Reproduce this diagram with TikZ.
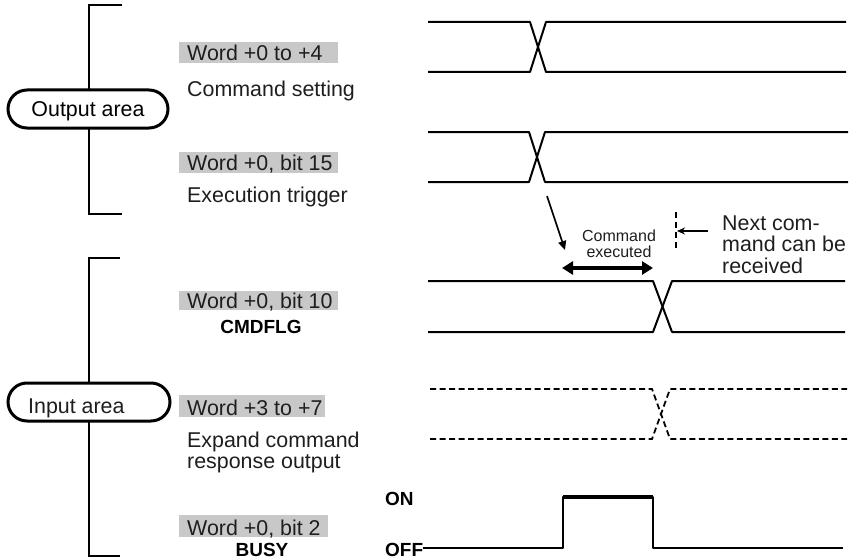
\documentclass[tikz,border=0pt]{standalone}
\usepackage{fontspec}
\setmainfont{Liberation Sans}
\usetikzlibrary{arrows.meta}
\definecolor{boxgray}{RGB}{200,200,200}
\definecolor{ink}{RGB}{30,30,30}
\begin{document}
\begin{tikzpicture}[x=1pt,y=-1pt,
  lbl/.style={anchor=base west, inner sep=0pt, font=\fontsize{21.4}{20}\selectfont, text=ink, align=left},
  small/.style={inner sep=0pt, font=\fontsize{16}{16}\selectfont, text=ink, align=center},
  tagbox/.style={fill=boxgray, draw=none},
  sig/.style={anchor=base, inner sep=0pt, font=\bfseries\fontsize{19}{20}\selectfont},
  wave/.style={line width=2pt, line join=round},
  dwave/.style={line width=1.8pt, dash pattern=on 6pt off 3.5pt},
  brack/.style={line width=2pt},
  pill/.style={draw, line width=3pt, rounded corners=19pt, minimum width=160pt, minimum height=38pt, fill=white, inner sep=0pt},
]
\useasboundingbox (0,0) rectangle (853,559);

% ---------- brackets and pills ----------
\draw[brack] (122,5) -- (89,5) -- (89,214) -- (122,214);
\node[pill, font=\fontsize{21.4}{20}\selectfont, text height=15pt, text depth=0pt] (outpill) at (88,109) {Output area};
\draw[brack] (120,258) -- (89,258) -- (89,556) -- (120,556);
\node[pill, minimum width=162pt] (inpill) at (89,402) {};
\node[lbl] (inlbl) at (28,413) {Input area};

% ---------- gray tags ----------
\fill[tagbox] (179,42) rectangle (338,63);
\node[lbl] (w1) at (187,61) {Word +0 to +4};
\node[lbl] (c1) at (187,96.5) {Command setting};
\fill[tagbox] (179,152) rectangle (338,173);
\node[lbl] (w2) at (187,170) {Word +0, bit 15};
\node[lbl] (c2) at (187,202) {Execution trigger};
\fill[tagbox] (179,291) rectangle (338,310);
\node[lbl] (w3) at (187,308) {Word +0, bit 10};
\node[sig] (c3) at (261,333) {CMDFLG};
\fill[tagbox] (179,395) rectangle (325,417);
\node[lbl] (w4) at (187,415) {Word +3 to +7};
\node[lbl, font=\fontsize{21.4}{20.5}\selectfont] (c4) at (187,468) {Expand command\\response output};
\fill[tagbox] (179,515) rectangle (328,537);
\node[lbl] (w5) at (187,535) {Word +0, bit 2};
\node[sig] (c5) at (262,556) {BUSY};

% ---------- waveforms ----------
\draw[wave] (428,22) -- (530,22) -- (546,72) -- (846,72);
\draw[wave] (428,72) -- (530,72) -- (546,22) -- (846,22);
\draw[wave] (428,132) -- (529,132) -- (545,182) -- (848,182);
\draw[wave] (428,182) -- (529,182) -- (545,132) -- (848,132);
\draw[wave] (428,281) -- (653,281) -- (672,332) -- (845,332);
\draw[wave] (428,332) -- (653,332) -- (672,281) -- (845,281);
\draw[dwave] (430,389) -- (652,389) -- (670,439) -- (847,439);
\draw[dwave] (430,439) -- (652,439) -- (670,389) -- (847,389);

\node[sig, anchor=base west] (on) at (385,505) {ON};
\node[sig, anchor=base west] (off) at (385,556) {OFF};
\draw[wave] (off.east |- 0,548) -- (563,548) -- (563,497) -- (653,497) -- (653,548) -- (843,548);
\draw[line width=4.5pt] (563,497) -- (653,497);

% ---------- annotations ----------
\coordinate (trig) at (547,196);
\coordinate (exstart) at (565,250);
\draw[line width=1.6pt, -{Triangle[length=9pt,width=8pt]}] (trig) -- (exstart);

\coordinate (dl) at (562,268);
\coordinate (dr) at (653,268);
\draw[line width=3.3pt, {Triangle[length=11pt,width=13pt]}-{Triangle[length=11pt,width=13pt]}] (dl) -- (dr);
\node[small, anchor=base] (exlbl) at (619,257) {Command\\executed};

\coordinate (vtop) at (676,212);
\coordinate (vbot) at (676,250);
\draw[line width=2pt, dash pattern=on 6pt off 4pt] (vtop) -- (vbot);
\node[lbl, font=\fontsize{21.4}{21.5}\selectfont] (next) at (722,273) {Next com-\\mand can be\\received};
\coordinate (nexttip) at (677,231);
\draw[line width=1.5pt, -{Stealth[length=8pt,width=7pt]}] (708,231) -- (nexttip);
\end{tikzpicture}
\end{document}
